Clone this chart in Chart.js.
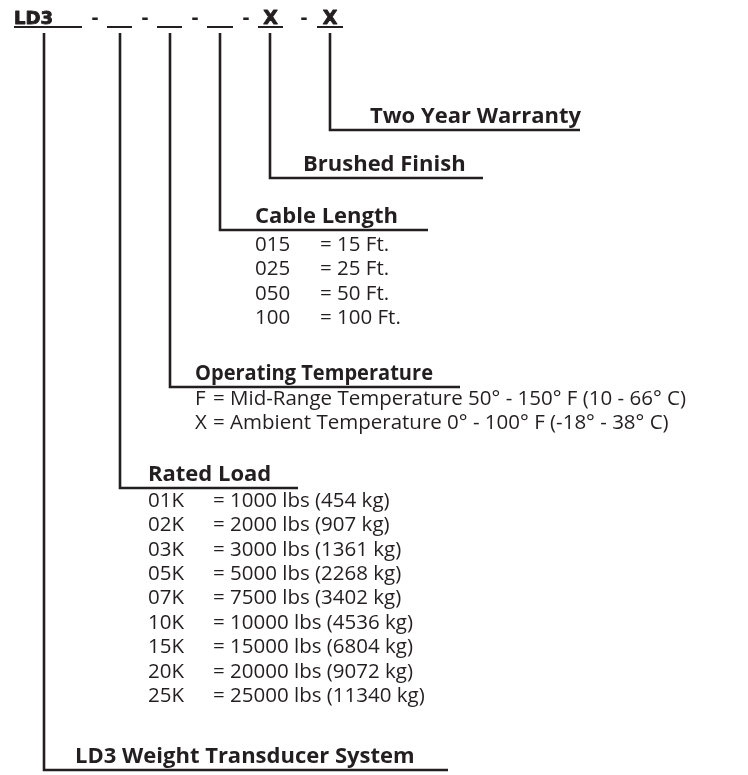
<!DOCTYPE html>
<html>
<head>
<meta charset="utf-8">
<script src="https://cdn.jsdelivr.net/npm/chart.js@4.4.1/dist/chart.umd.min.js"></script>
<style>
  html, body { margin: 0; padding: 0; background: #fff; }
  #wrap { width: 748px; height: 775px; }
</style>
</head>
<body>
<div id="wrap"><canvas id="diagram" width="748" height="775"></canvas></div>
<script>
"use strict";

// ── Data ──
const partSegments  = ["LD3", "", "", "", "X", "X"];
const sectionTitles = [
  "LD3 Weight Transducer System",
  "Rated Load",
  "Operating Temperature",
  "Cable Length",
  "Brushed Finish",
  "Two Year Warranty",
];
const ratedLoadCodes  = ["01K", "02K", "03K", "05K", "07K", "10K", "15K", "20K", "25K"];
const ratedLoadLabels = [
  "= 1000 lbs (454 kg)",
  "= 2000 lbs (907 kg)",
  "= 3000 lbs (1361 kg)",
  "= 5000 lbs (2268 kg)",
  "= 7500 lbs (3402 kg)",
  "= 10000 lbs (4536 kg)",
  "= 15000 lbs (6804 kg)",
  "= 20000 lbs (9072 kg)",
  "= 25000 lbs (11340 kg)",
];
const tempCodes  = ["F", "X"];
const tempLabels = [
  "= Mid-Range Temperature 50° - 150° F (10 - 66° C)",
  "= Ambient Temperature 0° - 100° F (-18° - 38° C)",
];
const cableCodes  = ["015", "025", "050", "100"];
const cableLabels = ["= 15 Ft.", "= 25 Ft.", "= 50 Ft.", "= 100 Ft."];

// ── Layout (page units, y grows downward) ──
const INK       = "#231f20";
const slotStart = [14, 107, 157, 207, 258, 317];
const slotEnd   = [82, 132, 182, 233, 283, 343];
const dashX     = [95, 145, 195, 246, 304];
const headY     = 27;
const stemTop   = 33;
const stemX     = [44, 120, 170, 220, 270, 330];
const elbowY    = [770, 488, 387, 230, 178, 130];
const ruleEnd   = [448, 298, 460, 428, 483, 580];
const titleX    = [75, 148, 195, 255, 303, 370];
const titleFit  = [null, null, 238, null, null, null];
const rowGap    = 24.4;

const optionBlocks = [
  { section: 1, codes: ratedLoadCodes, labels: ratedLoadLabels, labelX: 213, firstY: 501 },
  { section: 2, codes: tempCodes,      labels: tempLabels,      labelX: 213, firstY: 399 },
  { section: 3, codes: cableCodes,     labels: cableLabels,     labelX: 320, firstY: 245 },
];

// ── Line datasets ──
const lineSets = [];
partSegments.forEach((_, i) => {
  lineSets.push({
    data: [{ x: slotStart[i], y: headY }, { x: slotEnd[i], y: headY }],
    borderWidth: 2,
  });
  lineSets.push({
    data: [
      { x: stemX[i], y: stemTop },
      { x: stemX[i], y: elbowY[i] },
      { x: ruleEnd[i], y: elbowY[i] },
    ],
    borderWidth: 2.6,
  });
});
const datasets = lineSets.map(s => ({
  ...s,
  showLine: true,
  borderColor: INK,
  pointRadius: 0,
  fill: false,
  tension: 0,
  borderJoinStyle: "miter",
  borderCapStyle: "butt",
}));

// ── Text plugin ──
const textPlugin = {
  id: "diagramText",
  afterDatasetsDraw(chart) {
    const { ctx, scales: { x, y } } = chart;
    const px = v => x.getPixelForValue(v);
    const py = v => y.getPixelForValue(v);
    ctx.save();
    ctx.fillStyle   = INK;
    ctx.strokeStyle = INK;
    ctx.lineJoin    = "round";

    // part number heading (heavy face, thickened with a thin stroke)
    ctx.textBaseline = "alphabetic";
    ctx.lineWidth = 0.9;
    partSegments.forEach((code, i) => {
      if (!code) return;
      if (i === 0) {
        ctx.font = "bold 18px 'DejaVu Sans', sans-serif";
        ctx.textAlign = "left";
        ctx.fillText(code, px(slotStart[i]), py(24));
        ctx.strokeText(code, px(slotStart[i]), py(24));
      } else {
        ctx.font = "bold 19px 'DejaVu Sans', sans-serif";
        ctx.textAlign = "center";
        const cx = px((slotStart[i] + slotEnd[i]) / 2);
        ctx.fillText(code, cx, py(24));
        ctx.strokeText(code, cx, py(24));
      }
    });
    ctx.font = "bold 18px 'DejaVu Sans', sans-serif";
    ctx.textAlign = "center";
    dashX.forEach(d => ctx.fillText("-", px(d), py(24)));

    // section titles
    ctx.textAlign = "left";
    ctx.font = "bold 22px 'Open Sans', sans-serif";
    sectionTitles.forEach((t, i) => {
      if (titleFit[i]) ctx.fillText(t, px(titleX[i]), py(elbowY[i] - 7), titleFit[i]);
      else ctx.fillText(t, px(titleX[i]), py(elbowY[i] - 7));
    });

    // option rows
    ctx.font = "20.5px 'Open Sans', sans-serif";
    ctx.textBaseline = "middle";
    optionBlocks.forEach(b => {
      b.codes.forEach((c, r) => {
        const yy = py(b.firstY + r * rowGap);
        ctx.fillText(c, px(titleX[b.section]), yy);
        ctx.fillText(b.labels[r], px(b.labelX), yy);
      });
    });
    ctx.restore();
  },
};

// ── Chart ──
new Chart(document.getElementById("diagram"), {
  type: "scatter",
  data: { datasets },
  options: {
    responsive: false,
    animation: false,
    layout: { padding: 0 },
    plugins: { legend: { display: false }, tooltip: { enabled: false } },
    scales: {
      x: { type: "linear", min: 0, max: 748, display: false },
      y: { type: "linear", min: 0, max: 775, reverse: true, display: false },
    },
  },
  plugins: [textPlugin],
});
</script>
</body>
</html>
